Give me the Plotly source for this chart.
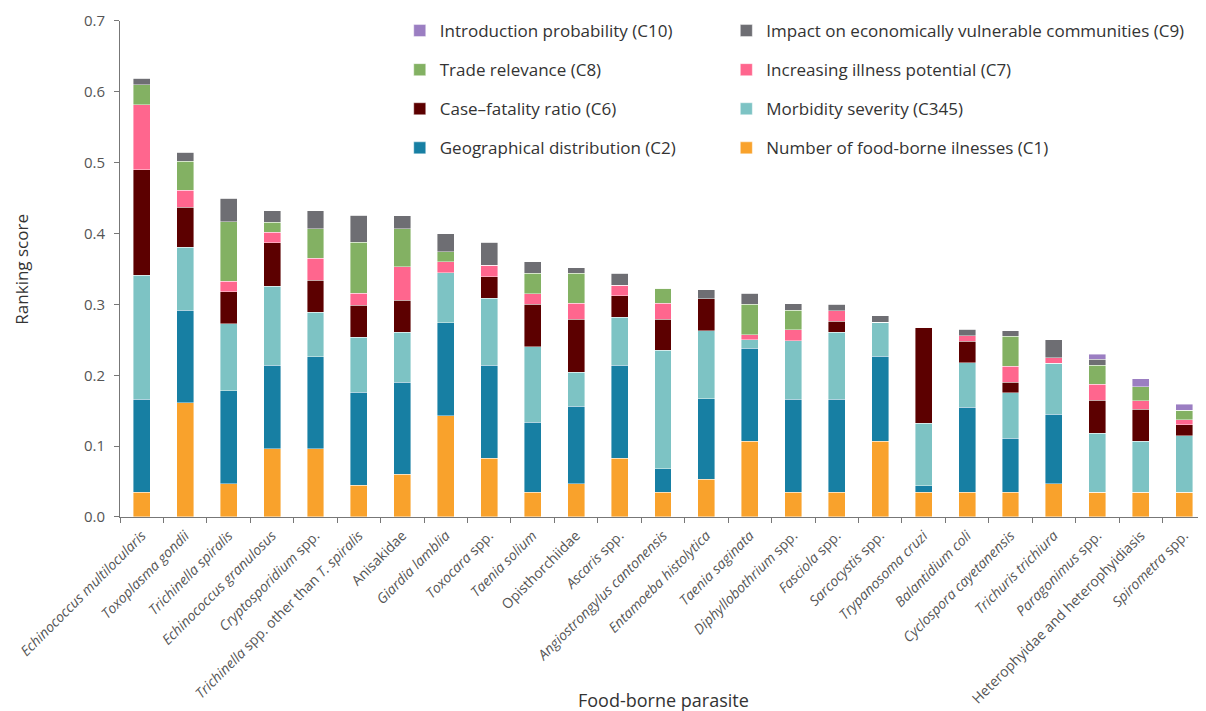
import plotly.graph_objects as go

parasites = [
    "Echinococcus multilocularis", "Toxoplasma gondii", "Trichinella spiralis",
    "Echinococcus granulosus", "Cryptosporidium spp.",
    "Trichinella spp. other than T. spiralis", "Anisakidae", "Giardia lamblia",
    "Toxocara spp.", "Taenia solium", "Opisthorchiidae", "Ascaris spp.",
    "Angiostrongylus cantonensis", "Entamoeba histolytica", "Taenia saginata",
    "Diphyllobothrium spp.", "Fasciola spp.", "Sarcocystis spp.",
    "Trypanosoma cruzi", "Balantidium coli", "Cyclospora cayetanensis",
    "Trichuris trichiura", "Paragonimus spp.",
    "Heterophyidae and heterophyidiasis", "Spirometra spp.",
]
parasite_labels = [
    "<i>Echinococcus multilocularis</i>", "<i>Toxoplasma gondii</i>", "<i>Trichinella spiralis</i>",
    "<i>Echinococcus granulosus</i>", "<i>Cryptosporidium</i> spp.",
    "<i>Trichinella</i> spp. other than <i>T. spiralis</i>", "Anisakidae", "<i>Giardia lamblia</i>",
    "<i>Toxocara</i> spp.", "<i>Taenia solium</i>", "Opisthorchiidae", "<i>Ascaris</i> spp.",
    "<i>Angiostrongylus cantonensis</i>", "<i>Entamoeba histolytica</i>", "<i>Taenia saginata</i>",
    "<i>Diphyllobothrium</i> spp.", "<i>Fasciola</i> spp.", "<i>Sarcocystis</i> spp.",
    "<i>Trypanosoma cruzi</i>", "<i>Balantidium coli</i>", "<i>Cyclospora cayetanensis</i>",
    "<i>Trichuris trichiura</i>", "<i>Paragonimus</i> spp.",
    "Heterophyidae and heterophyidiasis", "<i>Spirometra</i> spp.",
]

c1 = [0.035, 0.161, 0.047, 0.096, 0.096, 0.045, 0.060, 0.143, 0.083, 0.035, 0.047, 0.083, 0.035,
      0.053, 0.107, 0.035, 0.035, 0.107, 0.035, 0.035, 0.035, 0.047, 0.035, 0.035, 0.035]
c2 = [0.131, 0.131, 0.131, 0.118, 0.130, 0.131, 0.130, 0.131, 0.131, 0.099, 0.109, 0.131, 0.033,
      0.114, 0.131, 0.131, 0.131, 0.120, 0.009, 0.120, 0.076, 0.098, 0.0, 0.0, 0.0]
c345 = [0.175, 0.089, 0.095, 0.112, 0.063, 0.078, 0.071, 0.071, 0.095, 0.106, 0.048, 0.068, 0.167,
        0.096, 0.012, 0.083, 0.095, 0.048, 0.088, 0.063, 0.064, 0.072, 0.0835, 0.072, 0.080]
c6 = [0.149, 0.056, 0.045, 0.061, 0.045, 0.045, 0.045, 0.0, 0.030, 0.060, 0.075, 0.030, 0.044,
      0.045, 0.0, 0.0, 0.015, 0.0, 0.136, 0.030, 0.015, 0.0, 0.046, 0.045, 0.015]
c7 = [0.092, 0.024, 0.015, 0.015, 0.031, 0.017, 0.047, 0.015, 0.016, 0.015, 0.023, 0.015, 0.023,
      0.0, 0.007, 0.015, 0.015, 0.0, 0.0, 0.008, 0.023, 0.008, 0.023, 0.012, 0.007]
c8 = [0.028, 0.041, 0.084, 0.014, 0.042, 0.072, 0.054, 0.014, 0.0, 0.029, 0.042, 0.0, 0.021,
      0.0, 0.043, 0.028, 0.0, 0.0, 0.0, 0.0, 0.042, 0.0, 0.027, 0.020, 0.014]
c9 = [0.009, 0.013, 0.033, 0.016, 0.025, 0.038, 0.018, 0.026, 0.033, 0.016, 0.008, 0.017, 0.0,
      0.013, 0.016, 0.009, 0.009, 0.009, 0.0, 0.009, 0.008, 0.025, 0.008, 0.0, 0.0]
c10 = [0.0, 0.0, 0.0, 0.0, 0.0, 0.0, 0.0, 0.0, 0.0, 0.0, 0.0, 0.0, 0.0,
       0.0, 0.0, 0.0, 0.0, 0.0, 0.0, 0.0, 0.0, 0.0, 0.007, 0.011, 0.008]

series_names = [
    "Number of food-borne ilnesses (C1)",
    "Geographical distribution (C2)",
    "Morbidity severity (C345)",
    "Case\u2013fatality ratio (C6)",
    "Increasing illness potential (C7)",
    "Trade relevance (C8)",
    "Impact on economically vulnerable communities (C9)",
    "Introduction probability (C10)",
]
series_values = [c1, c2, c345, c6, c7, c8, c9, c10]
series_colors = ["#F9A22C", "#177FA3", "#7DC3C4", "#5C0000", "#FF668E", "#83B163", "#6E6E73", "#9B7EC2"]
series_legend = ["legend2", "legend", "legend2", "legend", "legend2", "legend", "legend2", "legend"]
series_rank = [4, 4, 3, 3, 2, 2, 1, 1]

FONT = "Open Sans"
fig = go.Figure()
for name, vals, col, lg, rk in zip(series_names, series_values, series_colors, series_legend, series_rank):
    fig.add_trace(go.Bar(
        x=parasites, y=vals, name=name, legend=lg, legendgroup=name, legendrank=rk,
        marker=dict(color=col, line=dict(color="rgba(255,255,255,0.7)", width=0.6)),
        width=0.39,
    ))

legend_common = dict(
    orientation="v", traceorder="grouped", tracegroupgap=14,
    font=dict(family=FONT, size=17, color="#333333"),
    bgcolor="rgba(0,0,0,0)", yanchor="top", xanchor="left",
)
# the page body adds an 8px offset, so the figure is sized 8px smaller than the window
fig.update_layout(
    width=1198, height=703,
    margin=dict(l=112, r=0, t=5, b=194, autoexpand=False),
    barmode="stack",
    plot_bgcolor="white", paper_bgcolor="white",
    font=dict(family=FONT, color="#444444"),
    showlegend=True,
    legend=dict(x=0.2576, y=1.0, **legend_common),
    legend2=dict(x=0.5583, y=1.0, **legend_common),
    xaxis=dict(
        type="category", tickmode="array", tickvals=parasites, ticktext=parasite_labels,
        tickangle=-45, tickson="boundaries", ticks="outside", ticklen=5, tickcolor="#777777",
        showline=True, linecolor="#777777", linewidth=1, showgrid=False, automargin=False,
        ticklabelstandoff=4,
        tickfont=dict(family=FONT, size=14, color="#555555"),
        range=[-0.5, 24.5],
    ),
    yaxis=dict(
        domain=[0, 0.98413], automargin=False,
        range=[0, 0.7], dtick=0.1, tickformat=".1f", ticks="outside", ticklen=5,
        tickcolor="#777777", showline=True, linecolor="#777777", linewidth=1,
        showgrid=False, zeroline=False, ticklabelstandoff=6,
        tickfont=dict(family=FONT, size=15, color="#555555"),
    ),
    annotations=[
        dict(text="Ranking score", xref="paper", yref="paper", x=-0.0915, y=0.492,
             textangle=-90, showarrow=False, xanchor="center", yanchor="middle",
             font=dict(family=FONT, size=17, color="#333333")),
        dict(text="Food-borne parasite", xref="paper", yref="paper", x=0.5, y=-0.363,
             showarrow=False, xanchor="center", yanchor="middle",
             font=dict(family=FONT, size=18, color="#333333")),
    ],
)

fig.write_html("out.html")
